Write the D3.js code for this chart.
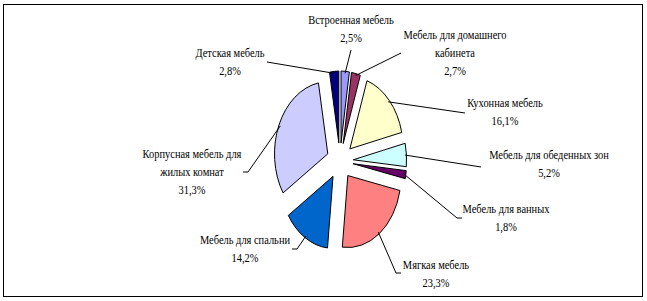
<!DOCTYPE html>
<html>
<head>
<meta charset="utf-8">
<script src="https://cdn.jsdelivr.net/npm/d3@7"></script>
<style>
  body { margin: 0; background: #fff; }
</style>
</head>
<body>
<svg id="chart" width="647" height="301"></svg>
<script>
// slices, clockwise from 12 o'clock
let categories = [
  ["Встроенная мебель"],
  ["Мебель для домашнего", "кабинета"],
  ["Кухонная мебель"],
  ["Мебель для обеденных зон"],
  ["Мебель для ванных"],
  ["Мягкая мебель"],
  ["Мебель для спальни"],
  ["Корпусная мебель для", "жилых комнат"],
  ["Детская мебель"]
];
let shares = [2.5, 2.7, 16.1, 5.2, 1.8, 23.3, 14.2, 31.3, 2.8];
let colors = ["#9999FF", "#993366", "#FFFFCC", "#CCFFFF", "#660066", "#FF8080", "#0066CC", "#CCCCFF", "#000080"];

// label placement (centre of first text line) and leader line end
let labelPos = [[351, 20], [455, 35], [505, 103], [549, 155], [506, 209], [436, 265], [245, 240], [192, 154], [230, 53]];
let leaderEnd = [[351, 50], [401, 53], [465, 113], [481, 167], [457, 218], [396, 273], [297, 249], [248, 172], [267, 62]];
let leaderTick = [0, 0, 0, 0, 5, 5, -5, -5, 0];

let cx = 340, cy = 161;
let radius = 72;
let explode = 18;
let squeeze = 0.74;
let textSqueeze = 0.87;
let lineGap = 18;

let ru = d3.formatLocale({decimal: ",", thousands: " ", grouping: [3], currency: ["", " руб."]});
let fmtPct = ru.format(".1f");

let svg = d3.select('#chart');

svg.append('rect')
  .attr('x', 3.5).attr('y', 4.5)
  .attr('width', 639).attr('height', 292)
  .style('fill', 'none')
  .style('stroke', '#000')
  .style('stroke-width', '1px');

let pie = d3.pie().sort(null).value(d => d);
let arcs = pie(shares);
let arc = d3.arc().innerRadius(0).outerRadius(radius);

let pieG = svg.append('g')
  .attr('transform', `translate(${cx},${cy}) scale(${squeeze},1)`);

pieG.selectAll('path.slice')
  .data(arcs)
  .enter()
  .append('path')
  .attr('class', 'slice')
  .attr('d', arc)
  .attr('transform', d => {
    let mid = (d.startAngle + d.endAngle) / 2;
    return `translate(${explode * Math.sin(mid)},${-explode * Math.cos(mid)})`;
  })
  .style('fill', (d, i) => colors[i])
  .style('stroke', '#000')
  .style('stroke-width', '1px')
  .attr('vector-effect', 'non-scaling-stroke');

// leader lines, start on the outer edge of each exploded slice
function leaderPoints(d, i) {
  let mid = (d.startAngle + d.endAngle) / 2;
  let rr = explode + radius - 2;
  let sx = cx + rr * Math.sin(mid) * squeeze;
  let sy = cy - rr * Math.cos(mid);
  let e = leaderEnd[i];
  let pts = [[sx, sy], e];
  if (leaderTick[i] != 0) pts.push([e[0] + leaderTick[i], e[1]]);
  return pts;
}

svg.selectAll('path.leader')
  .data(arcs)
  .enter()
  .append('path')
  .attr('class', 'leader')
  .attr('d', (d, i) => d3.line()(leaderPoints(d, i)))
  .style('fill', 'none')
  .style('stroke', '#000')
  .style('stroke-width', '1px');

let labelG = svg.selectAll('g.label')
  .data(arcs)
  .enter()
  .append('g')
  .attr('class', 'label')
  .attr('transform', (d, i) => `translate(${labelPos[i][0]},${labelPos[i][1]}) scale(${textSqueeze},1)`);

labelG.selectAll('text')
  .data((d, i) => categories[i].concat([fmtPct(shares[i]) + '%']))
  .enter()
  .append('text')
  .attr('x', 0)
  .attr('y', (t, j) => j * lineGap + 4)
  .attr('text-anchor', 'middle')
  .attr('font-family', 'Liberation Serif, DejaVu Serif, serif')
  .attr('font-size', 12)
  .attr('fill', '#000')
  .text(t => t);
</script>
</body>
</html>
